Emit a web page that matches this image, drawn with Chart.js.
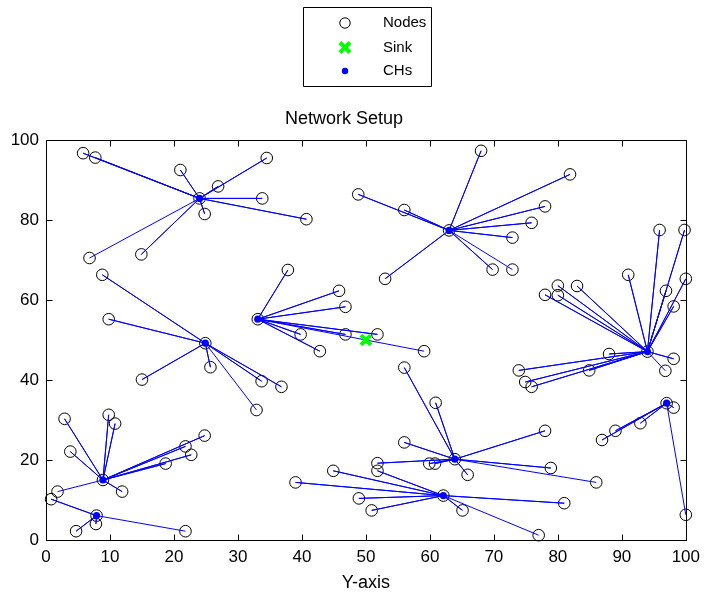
<!DOCTYPE html>
<html>
<head>
<meta charset="utf-8">
<title>Network Setup</title>
<script src="https://cdn.jsdelivr.net/npm/chart.js@4.4.1/dist/chart.umd.min.js"></script>
<style>
  body { margin: 0; background: #fff; }
  #wrap { width: 707px; height: 596px; }
</style>
</head>
<body>
<div id="wrap"><canvas id="net" width="707" height="596"></canvas></div>
<script>
// cluster heads
const headX = [24.0, 24.9, 8.9, 7.9, 33.1, 63.0, 94.0, 97.0, 63.9, 62.1];
const headY = [85.4, 49.2, 15.0, 6.1, 55.2, 77.4, 47.1, 34.2, 20.2, 11.1];

// normal nodes and the head each one joins
const nodeX = [
  5.8, 7.7, 21.0, 26.9, 34.5, 33.8, 24.8, 40.7, 14.9, 6.8,
  8.8, 9.8, 15.0, 25.7, 33.7, 36.8, 32.9,
  2.9, 9.8, 10.8, 3.8, 24.8, 21.8, 22.7, 18.7, 11.9, 1.8,
  0.8, 7.8, 4.7, 21.8,
  37.8, 45.8, 46.8, 39.8, 46.8, 51.8, 42.8, 59.1,
  68.0, 48.8, 56.0, 53.0, 81.9, 78.0, 75.9, 72.9, 69.8, 72.9,
  95.9, 99.8, 91.0, 96.9, 100.0, 98.1, 78.0, 80.0, 80.0, 83.0, 88.0, 73.9, 74.9, 75.9, 84.9, 98.1, 96.8,
  98.1, 92.9, 89.0, 86.9, 100.0,
  56.0, 60.9, 56.0, 51.8, 59.9, 60.8, 65.9, 78.0, 78.9, 86.0,
  39.0, 44.9, 51.8, 48.9, 50.9, 65.1, 81.0, 77.0
];
const nodeY = [
  96.7, 95.6, 92.5, 88.4, 95.5, 85.4, 81.5, 80.2, 71.4, 70.5,
  66.3, 55.2, 40.1, 43.2, 39.7, 38.3, 32.5,
  30.3, 31.3, 29.1, 22.1, 26.1, 23.4, 21.3, 19.1, 12.1, 12.1,
  10.2, 4.0, 2.2, 2.2,
  67.5, 62.3, 58.3, 51.4, 51.4, 51.4, 47.2, 47.2,
  97.3, 86.4, 82.5, 65.3, 91.4, 83.4, 79.3, 75.6, 67.6, 67.6,
  77.5, 77.5, 66.3, 62.3, 65.3, 58.4, 61.3, 63.6, 61.2, 63.5, 46.5, 42.4, 39.5, 38.3, 42.4, 45.3, 42.3,
  33.1, 29.2, 27.3, 25.0, 6.3,
  43.1, 34.3, 24.4, 19.2, 19.1, 19.1, 16.3, 27.3, 18.0, 14.4,
  14.4, 17.3, 17.3, 10.4, 7.4, 7.4, 9.2, 1.2
];
const nodeHead = [
  0, 0, 0, 0, 0, 0, 0, 0, 0, 0,
  1, 1, 1, 1, 1, 1, 1,
  2, 2, 2, 2, 2, 2, 2, 2, 2, 2,
  3, 3, 3, 3,
  4, 4, 4, 4, 4, 4, 4, 4,
  5, 5, 5, 5, 5, 5, 5, 5, 5, 5,
  6, 6, 6, 6, 6, 6, 6, 6, 6, 6, 6, 6, 6, 6, 6, 6, 6,
  7, 7, 7, 7, 7,
  8, 8, 8, 8, 8, 8, 8, 8, 8, 8,
  9, 9, 9, 9, 9, 9, 9, 9
];

const sinkX = [50];
const sinkY = [50];

const xTicks = [0, 10, 20, 30, 40, 50, 60, 70, 80, 90, 100];
const yTicks = [0, 20, 40, 60, 80, 100];

const FONT = '"Liberation Sans", Arial, Helvetica, sans-serif';
Chart.defaults.font.family = FONT;
Chart.defaults.color = '#000';

// every node gets a circle, heads included
const circles = nodeX.map((x, i) => ({ x: x, y: nodeY[i] }))
  .concat(headX.map((x, i) => ({ x: x, y: headY[i] })));

// one polyline per head: head -> node -> head -> node ...
const links = headX.map((hx, h) => {
  const pts = [];
  nodeHead.forEach((n, i) => {
    if (n === h) {
      pts.push({ x: hx, y: headY[h] });
      pts.push({ x: nodeX[i], y: nodeY[i] });
    }
  });
  return {
    data: pts,
    showLine: true,
    borderColor: '#0000ff',
    borderWidth: 1,
    pointRadius: 0,
    pointHoverRadius: 0,
    clip: false,
    order: 2
  };
});

const datasets = [
  {
    label: 'CHs',
    data: headX.map((x, i) => ({ x: x, y: headY[i] })),
    pointStyle: 'circle',
    pointRadius: 3.6,
    backgroundColor: '#0000ff',
    borderColor: '#0000ff',
    borderWidth: 0,
    clip: false,
    order: 0
  },
  {
    label: 'Sink',
    data: sinkX.map((x, i) => ({ x: x, y: sinkY[i] })),
    pointStyle: 'crossRot',
    pointRadius: 7,
    borderColor: '#00ff00',
    borderWidth: 4,
    clip: false,
    order: 1
  },
  ...links,
  {
    label: 'Nodes',
    data: circles,
    pointStyle: 'circle',
    pointRadius: 5.8,
    backgroundColor: 'rgba(0,0,0,0)',
    borderColor: '#000',
    borderWidth: 1,
    clip: false,
    order: 3
  }
];

// MATLAB style box with inward ticks, plus the boxed legend
const boxPlugin = {
  id: 'box',
  afterDraw(chart) {
    const { ctx, chartArea: a, scales } = chart;
    const L = Math.round(a.left) + 0.5, R = Math.round(a.right) + 0.5;
    const T = Math.round(a.top) + 0.5, B = Math.round(a.bottom) + 0.5;
    const tl = 6;
    ctx.save();
    ctx.strokeStyle = '#000';
    ctx.lineWidth = 1;
    ctx.beginPath();
    ctx.rect(L, T, R - L, B - T);
    xTicks.forEach(v => {
      const px = Math.round(scales.x.getPixelForValue(v)) + 0.5;
      ctx.moveTo(px, B); ctx.lineTo(px, B - tl);
      ctx.moveTo(px, T); ctx.lineTo(px, T + tl);
    });
    yTicks.forEach(v => {
      const py = Math.round(scales.y.getPixelForValue(v)) + 0.5;
      ctx.moveTo(L, py); ctx.lineTo(L + tl, py);
      ctx.moveTo(R, py); ctx.lineTo(R - tl, py);
    });
    ctx.stroke();

    // legend
    const lx = 303.5, ly = 7.5, lw = 128, lh = 79;
    ctx.beginPath();
    ctx.rect(lx, ly, lw, lh);
    ctx.stroke();
    const mx = 345, tx = 383;
    const rows = [
      { label: 'Nodes', y: 23 },
      { label: 'Sink', y: 47.5 },
      { label: 'CHs', y: 71 }
    ];
    // circle
    ctx.beginPath();
    ctx.arc(mx, rows[0].y, 5.2, 0, Math.PI * 2);
    ctx.stroke();
    // cross
    ctx.strokeStyle = '#00ff00';
    ctx.lineWidth = 4;
    const d = 5;
    ctx.beginPath();
    ctx.moveTo(mx - d, rows[1].y - d); ctx.lineTo(mx + d, rows[1].y + d);
    ctx.moveTo(mx - d, rows[1].y + d); ctx.lineTo(mx + d, rows[1].y - d);
    ctx.stroke();
    // dot
    ctx.fillStyle = '#0000ff';
    ctx.beginPath();
    ctx.arc(mx, rows[2].y, 3.2, 0, Math.PI * 2);
    ctx.fill();

    ctx.fillStyle = '#000';
    ctx.font = '15px ' + FONT;
    ctx.textBaseline = 'middle';
    ctx.textAlign = 'left';
    rows.forEach(r => ctx.fillText(r.label, tx, r.y));
    ctx.restore();
  }
};

new Chart(document.getElementById('net'), {
  type: 'scatter',
  data: { datasets: datasets },
  options: {
    responsive: false,
    devicePixelRatio: 1,
    animation: false,
    layout: { padding: { left: 0, right: 19, top: 0, bottom: 0 } },
    plugins: {
      legend: { display: false },
      tooltip: { enabled: false },
      title: {
        display: true,
        text: 'Network Setup',
        color: '#000',
        font: { size: 18, weight: 'normal' },
        padding: { top: 108, bottom: 10.4 }
      }
    },
    scales: {
      x: {
        type: 'linear',
        min: 0,
        max: 100,
        afterBuildTicks: s => { s.ticks = xTicks.map(v => ({ value: v })); },
        afterFit: s => { s.height = 56; },
        grid: { display: false, drawTicks: false },
        border: { display: false },
        ticks: { padding: 7, font: { size: 17 }, color: '#000', maxRotation: 0 },
        title: {
          display: true,
          text: 'Y-axis',
          color: '#000',
          font: { size: 18 },
          padding: { top: 0, bottom: 2 }
        }
      },
      y: {
        type: 'linear',
        min: 0,
        max: 100,
        afterBuildTicks: s => { s.ticks = yTicks.map(v => ({ value: v })); },
        afterFit: s => { s.width = 46; },
        grid: { display: false, drawTicks: false },
        border: { display: false },
        ticks: { padding: 7, font: { size: 17 }, color: '#000' }
      }
    }
  },
  plugins: [boxPlugin]
});
</script>
</body>
</html>
